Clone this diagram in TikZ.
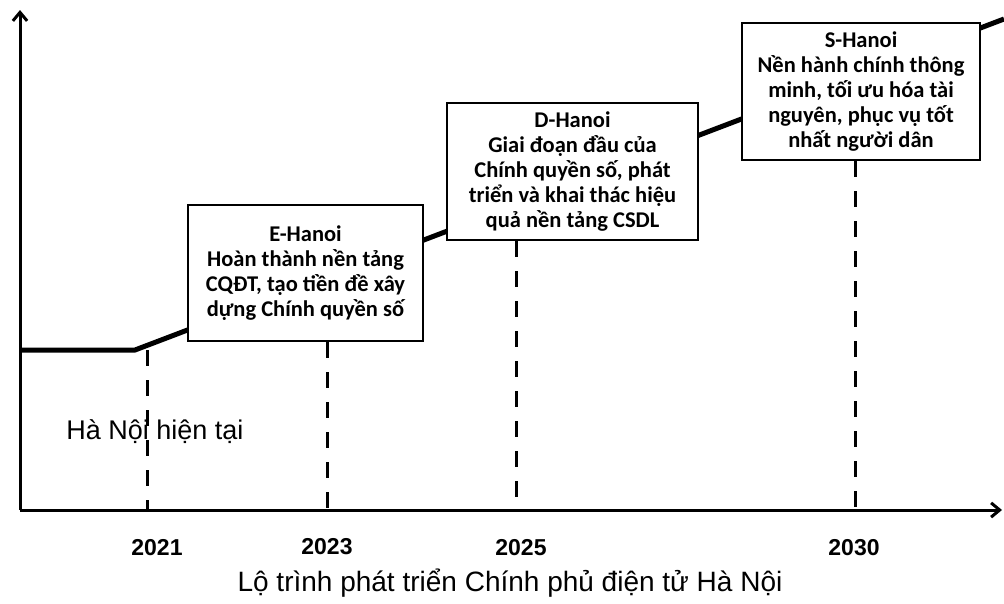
\documentclass[tikz,border=0pt]{standalone}
\usepackage{fontspec}
\setmainfont{Carlito}
\newfontfamily\arialfont{Liberation Sans}
\usetikzlibrary{arrows.meta}
\tikzset{%
	>={Straight Barb[length=3mm,width=5mm,line width=3pt]},
	% Specifications for style of nodes:
	phase/.style = {rectangle, draw=black, line width=2.5pt, fill=white,
		align=center, inner sep=2pt,
		font=\bfseries\fontsize{22.5}{25}\selectfont},
	road/.style = {line width=5pt},
	axis/.style = {line width=3pt},
	tick/.style = {line width=3pt, dash pattern=on 16pt off 14pt},
	year/.style = {font=\arialfont\bfseries\fontsize{23}{27}\selectfont},
}
\begin{document}
\begin{tikzpicture}[x=1pt, y=-1pt]
		\useasboundingbox (0,0) rectangle (1004,603);
		
		% Axes and points on them
		\coordinate (origin) at (20,510);
		\coordinate (yTop) at (20,10);
		\coordinate (xEnd) at (1002,510);
		\coordinate (a2021) at (147,510);
		\coordinate (a2023) at (327,510);
		\coordinate (a2025) at (516,510);
		\coordinate (a2030) at (855,510);
		
		% The road line
		\coordinate (roadStart) at (20,350);
		\coordinate (roadBend) at (135,350);
		\coordinate (roadEnd) at (1004,19);
		\coordinate (t2021) at (147,350);
		
		\draw[road] (roadStart) -- (roadBend) -- (roadEnd);
		
		% Specification of nodes (position, etc.)
		\node (eHanoi) [phase, minimum width=235pt, minimum height=136pt] at (305.5,273)
		{E-Hanoi\\Hoàn thành nền tảng\\CQĐT, tạo tiền đề xây\\dựng Chính quyền số};
		
		\node (dHanoi) [phase, minimum width=251pt, minimum height=137pt] at (572.5,171.5)
		{D-Hanoi\\Giai đoạn đầu của\\Chính quyền số, phát\\triển và khai thác hiệu\\quả nền tảng CSDL};
		
		\node (sHanoi) [phase, minimum width=238pt, minimum height=137pt] at (861,91.5)
		{S-Hanoi\\Nền hành chính thông\\minh, tối ưu hóa tài\\nguyên, phục vụ tốt\\nhất người dân};
		
		\node (now) [font=\arialfont\fontsize{27}{31}\selectfont] at (155,432) {Hà Nội hiện tại};
		
		% Dashed year marks
		\draw[tick] (t2021) -- (a2021);
		\draw[tick] (eHanoi.south -| a2023) -- (a2023);
		\draw[tick] (dHanoi.south -| a2025) -- (a2025);
		\draw[tick] (sHanoi.south -| a2030) -- (a2030);
		
		\draw[axis, ->] (origin) -- (yTop);
		\draw[axis, ->] (origin) -- (xEnd);
		
		\node (y2021) [year] at (157,548) {2021};
		\node (y2023) [year] at (327,547) {2023};
		\node (y2025) [year] at (521,548) {2025};
		\node (y2030) [year] at (854,548) {2030};
		
		\node (caption) [font=\arialfont\fontsize{28}{32}\selectfont] at (510,583)
		{Lộ trình phát triển Chính phủ điện tử Hà Nội};
		
	\end{tikzpicture}
\end{document}
